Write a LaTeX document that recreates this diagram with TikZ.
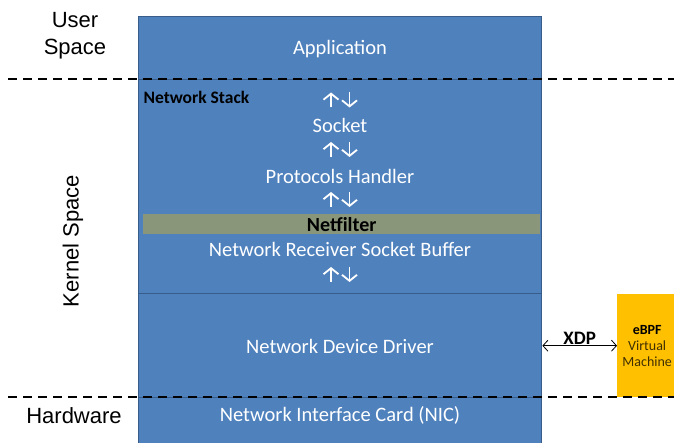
\documentclass[tikz,border=0pt]{standalone}
\usepackage{fontspec}
\setmainfont{Carlito}
\newfontfamily\arialfont{Liberation Sans}
\usetikzlibrary{arrows.meta}

\definecolor{layerblue}{RGB}{79,129,189}
\definecolor{layerline}{RGB}{56,93,138}
\definecolor{filterband}{RGB}{137,150,122}
\definecolor{ebpfyellow}{RGB}{255,192,0}
\definecolor{vmtext}{RGB}{64,48,0}

\begin{document}
\begin{tikzpicture}[x=1pt,y=-1pt,
	layer/.style={draw=layerline,line width=1.4pt,fill=layerblue,minimum width=403pt,inner sep=0pt,anchor=north west},
	layertext/.style={text=white,font=\fontsize{20.5}{24}\selectfont},
	spacelabel/.style={font=\arialfont\fontsize{22}{27}\selectfont,align=center},
	divider/.style={black,line width=1.6pt,dash pattern=on 9pt off 6pt},
	updown/.style={white,line width=1.8pt,-{Straight Barb[length=6pt,width=15pt,line width=1.8pt]}},
	xdparrow/.style={black,line width=0.8pt,{Straight Barb[length=5pt,width=11pt]}-{Straight Barb[length=5pt,width=11pt]}}]
	\clip (0,0) rectangle (674,443);
	% layers of the stack
	\node[layer,minimum height=63pt]  (app)    at (138,16)  {};
	\node[layer,minimum height=214pt] (stack)  at (138,79)  {};
	\node[layer,minimum height=104pt] (driver) at (138,293) {};
	\node[layer,minimum height=60pt]  (nic)    at (138,397) {};
	\node[fill=filterband,minimum width=397pt,minimum height=20pt,inner sep=0pt,anchor=north west,font=\bfseries\fontsize{20}{24}\selectfont] (netfilter) at (143,214) {Netfilter};
	\node[fill=ebpfyellow,minimum width=60pt,minimum height=103pt,inner sep=0pt,anchor=north west,align=center,font=\fontsize{14}{16}\selectfont] (ebpf) at (617,294)
		{\textbf{eBPF}\\\textcolor{vmtext}{Virtual}\\\textcolor{vmtext}{Machine}};
	% texts in the layers
	\node[layertext] (application) at (340,49)  {Application};
	\node[anchor=west,font=\bfseries\fontsize{17.5}{20}\selectfont] (stacklabel) at (140,97) {Network Stack};
	\node[layertext] (socket)      at (340,125) {Socket};
	\node[layertext] (protocols)   at (340,176) {Protocols Handler};
	\node[layertext] (skbuff)      at (340,249) {Network Receiver Socket Buffer};
	\node[layertext] (devdriver)   at (340,346) {Network Device Driver};
	\node[layertext] (niccard)     at (340,415) {Network Interface Card (NIC)};
	% up and down arrows
	\foreach \y in {100,149.5,199.5,274.5} {
		\draw[updown] (331,\y+7.5) -- (331,\y-7.5);
		\draw[updown] (349.5,\y-7.5) -- (349.5,\y+7.5);
	}
	% XDP hook
	\draw[xdparrow] (driver.east) -- node[above,inner sep=1pt,font=\bfseries\fontsize{19}{22}\selectfont]{XDP} (ebpf.west);
	% space labels
	\node[spacelabel] (userspace) at (75,36) {User\\Space};
	\node[spacelabel,rotate=90] (kernelspace) at (73,241) {Kernel Space};
	\node[spacelabel] (hardware) at (74,416) {Hardware};
	\draw[divider] (8,79) -- (674,79);
	\draw[divider] (8,397) -- (674,397);
\end{tikzpicture}
\end{document}
